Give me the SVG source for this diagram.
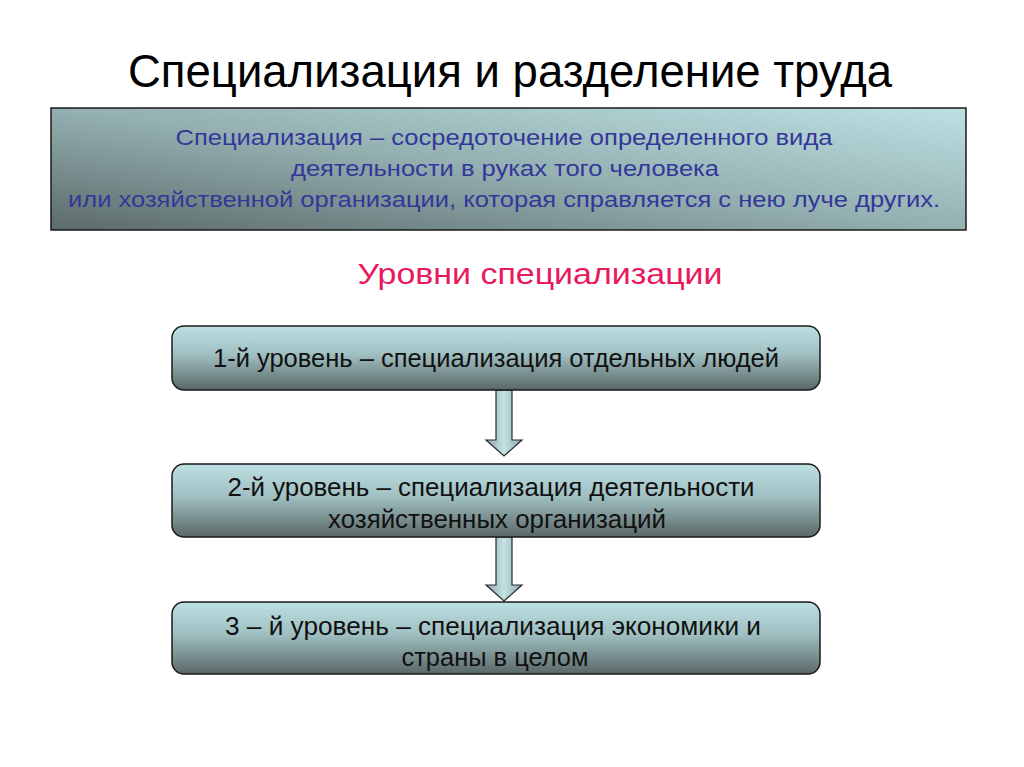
<svg xmlns="http://www.w3.org/2000/svg" width="1024" height="767" viewBox="0 0 1024 767">
  <defs>
    <linearGradient id="gTop" x1="1" y1="0" x2="0" y2="1">
      <stop offset="0" stop-color="#bde1e3"/>
      <stop offset="0.5" stop-color="#94b0b1"/>
      <stop offset="1" stop-color="#5c6a6a"/>
    </linearGradient>
    <linearGradient id="gBox" x1="0" y1="0" x2="0" y2="1">
      <stop offset="0" stop-color="#bde0e3"/>
      <stop offset="0.45" stop-color="#9fbfc1"/>
      <stop offset="1" stop-color="#5a6767"/>
    </linearGradient>
    <linearGradient id="gArrow" x1="0" y1="0" x2="1" y2="0">
      <stop offset="0" stop-color="#8fa9aa"/>
      <stop offset="0.5" stop-color="#c3e2e4"/>
      <stop offset="1" stop-color="#8fa9aa"/>
    </linearGradient>
  </defs>
  <style>
    .box { fill: url(#gBox); stroke: #1a1a1a; stroke-width: 1.5; }
    .lvl { font-family: "Liberation Sans", Arial, sans-serif; font-size: 26px; fill: #111; text-anchor: middle; }
    .def { font-family: "Liberation Sans", Arial, sans-serif; font-size: 22px; fill: #34379a; text-anchor: middle; }
    .arrow { fill: url(#gArrow); stroke: #2a2a2a; stroke-width: 1.2; }
  </style>
  <rect width="1024" height="767" fill="#ffffff"/>

  <g id="title">
    <text x="510" y="87" font-family="Liberation Sans, Arial, sans-serif" font-size="46" fill="#000" text-anchor="middle" textLength="764" lengthAdjust="spacingAndGlyphs">Специализация и разделение труда</text>
  </g>

  <g id="definition">
    <rect x="51" y="108" width="915" height="122" fill="url(#gTop)" stroke="#1a1a1a" stroke-width="1.5"/>
    <text class="def" x="504" y="145" textLength="657" lengthAdjust="spacingAndGlyphs">Специализация – сосредоточение определенного вида</text>
    <text class="def" x="505" y="176" textLength="428" lengthAdjust="spacingAndGlyphs">деятельности в руках того человека</text>
    <text class="def" x="504" y="207" textLength="872" lengthAdjust="spacingAndGlyphs">или хозяйственной организации, которая справляется с нею луче других.</text>
  </g>

  <g id="subtitle">
    <text x="540" y="284" font-family="Liberation Sans, Arial, sans-serif" font-size="29" fill="#e8195c" text-anchor="middle" textLength="365" lengthAdjust="spacingAndGlyphs">Уровни специализации</text>
  </g>

  <g id="connectors">
    <path class="arrow" d="M496,390 L512,390 L512,440 L522,440 L504,456 L486,440 L496,440 Z"/>
    <path class="arrow" d="M496,537 L512,537 L512,585 L522,585 L504,601 L486,585 L496,585 Z"/>
  </g>

  <g id="level1">
    <rect class="box" x="172" y="326" width="648" height="64" rx="12"/>
    <text class="lvl" x="496" y="367" textLength="566" lengthAdjust="spacingAndGlyphs">1-й уровень – специализация отдельных людей</text>
  </g>

  <g id="level2">
    <rect class="box" x="172" y="464" width="648" height="73" rx="12"/>
    <text class="lvl" x="491" y="496" textLength="527" lengthAdjust="spacingAndGlyphs">2-й уровень – специализация деятельности</text>
    <text class="lvl" x="497" y="528" textLength="338" lengthAdjust="spacingAndGlyphs">хозяйственных организаций</text>
  </g>

  <g id="level3">
    <rect class="box" x="172" y="602" width="648" height="72" rx="12"/>
    <text class="lvl" x="493" y="635" textLength="536" lengthAdjust="spacingAndGlyphs">3 – й уровень – специализация экономики  и</text>
    <text class="lvl" x="495" y="666" textLength="187" lengthAdjust="spacingAndGlyphs">страны в целом</text>
  </g>
</svg>
